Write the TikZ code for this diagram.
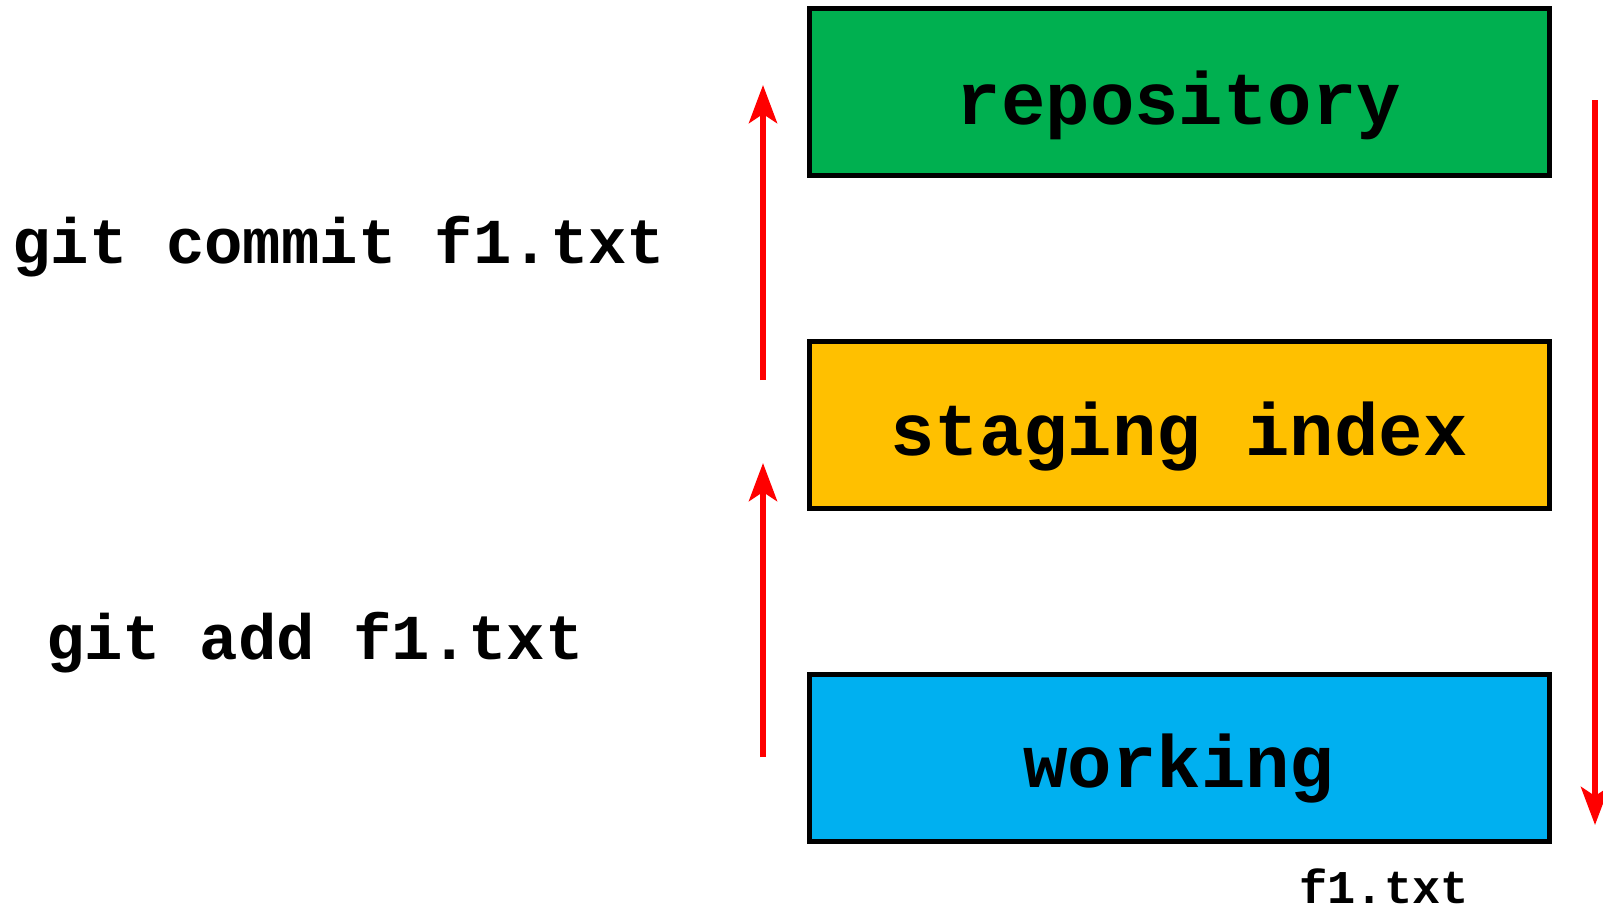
\documentclass[tikz,border=0pt]{standalone}
\usepackage{fontspec}
\setmonofont{Liberation Mono}
\usetikzlibrary{arrows.meta}
\definecolor{repgreen}{HTML}{00B050}
\definecolor{stageyellow}{HTML}{FFC000}
\definecolor{workblue}{HTML}{00B0F0}
\tikzset{
  area/.style={draw=black, line width=5pt, minimum width=740pt, minimum height=167pt, inner sep=0pt},
  boxtext/.style={anchor=base, inner sep=0pt, font=\fontsize{74}{74}\selectfont\ttfamily\bfseries},
  cmdtext/.style={anchor=base, inner sep=0pt, font=\fontsize{64}{64}\selectfont\ttfamily\bfseries},
  filetext/.style={anchor=base, inner sep=0pt, font=\fontsize{47}{47}\selectfont\ttfamily\bfseries},
  flow/.style={draw=red, line width=6pt, -{Stealth[length=38pt, width=28pt, inset=9pt]}}
}
\begin{document}
\begin{tikzpicture}[x=1pt, y=-1pt]
  \useasboundingbox (0,0) rectangle (1603,916);
  % boxes
  \node[area, fill=repgreen] (repo) at (1179.5,92) {};
  \node[area, fill=stageyellow] (stage) at (1179.5,424.5) {};
  \node[area, fill=workblue] (work) at (1179.5,757.5) {};
  % box labels
  \node[boxtext] (repoT) at (1179,124.5) {repository};
  \node[boxtext] (stageT) at (1179,455) {staging index};
  \node[boxtext] (workT) at (1179,787) {working};
  % command labels
  \node[cmdtext] (commit) at (339,263) {git commit f1.txt};
  \node[cmdtext] (add) at (315,659) {git add f1.txt};
  \node[filetext] (file) at (1384,903) {f1.txt};
  % arrows
  \coordinate (c1s) at (763,380);
  \coordinate (c1e) at (763,85);
  \coordinate (a1s) at (763,757);
  \coordinate (a1e) at (763,463);
  \coordinate (rs) at (1595,100);
  \coordinate (re) at (1595,825);
  \draw[flow] (c1s) -- (c1e);
  \draw[flow] (a1s) -- (a1e);
  \draw[flow] (rs) -- (re);
\end{tikzpicture}
\end{document}
